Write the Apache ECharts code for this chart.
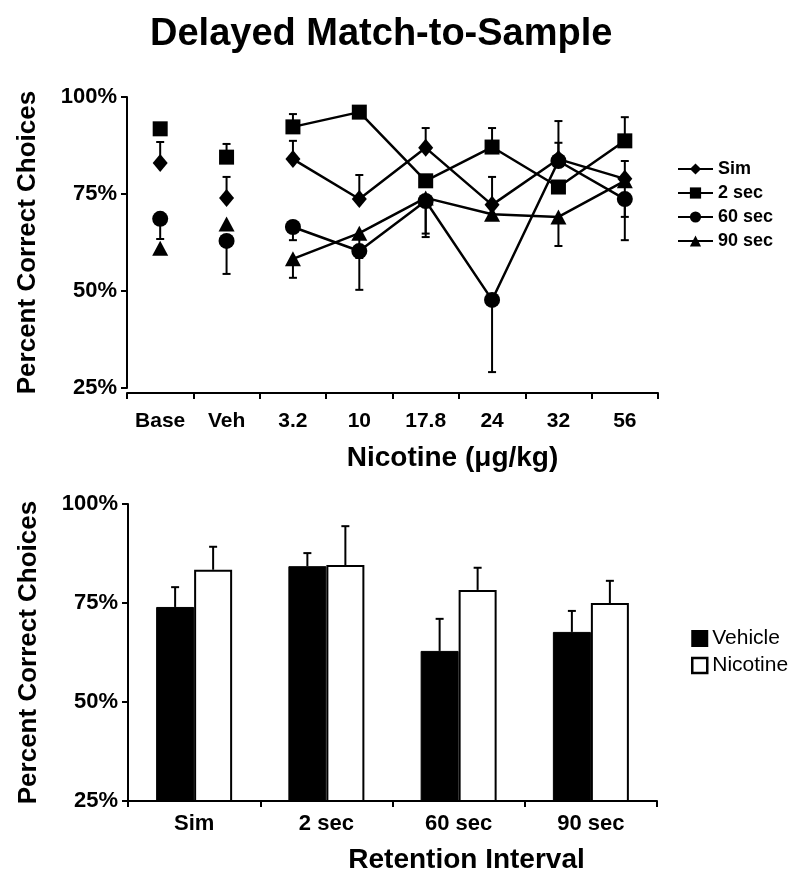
<!DOCTYPE html>
<html>
<head>
<meta charset="utf-8">
<script src="https://cdn.jsdelivr.net/npm/echarts@6/dist/echarts.min.js"></script>
<style>
  html, body { margin: 0; padding: 0; background: #fff; }
  #chart { width: 800px; height: 882px; }
</style>
</head>
<body>
<div id="chart"></div>
<script>
// top panel: dose-response
const doses = ["Base", "Veh", "3.2", "10", "17.8", "24", "32", "56"];
const simVals = [83.0, 74.0, 84.0, 73.7, 86.9, 72.2, 84.0, 78.9];
const sec2Vals = [91.8, 84.5, 92.3, 96.1, 78.4, 87.1, 76.8, 88.7];
const sec60Vals = [68.6, 62.9, 66.5, 60.3, 73.2, 47.7, 83.5, 73.7];
const sec90Vals = [61.0, 67.3, 58.3, 64.9, 74.0, 69.8, 69.1, 78.4];
// end of each error whisker (null = none shown)
const simErr = [88.4, 79.4, 88.7, 79.9, 92.0, 79.4, 88.2, 83.5];
const sec2Err = [null, 87.9, 95.6, null, null, 92.0, null, 94.8];
const sec60Err = [63.4, 54.4, 63.1, 50.3, 63.9, 29.1, 93.8, 63.1];
const sec90Err = [null, null, 53.4, 58.5, 64.8, null, 61.6, 69.1];

// bottom panel: vehicle vs nicotine
const intervals = ["Sim", "2 sec", "60 sec", "90 sec"];
const vehicleVals = [74.0, 84.3, 62.9, 67.7];
const vehicleErr = [79.0, 87.6, 71.0, 73.0];
const nicotineVals = [83.4, 84.6, 78.3, 75.0];
const nicotineErr = [89.2, 94.4, 83.9, 80.6];

const yTicks = [25, 50, 75, 100];

const FONT = "Liberation Sans, Arial, sans-serif";
const BAR_W = 38;

let chart = echarts.init(document.getElementById("chart"));

function errSeries(vals, errs, xi, dx) {
  let data = [];
  vals.forEach(function (v, i) {
    if (errs[i] != null) data.push([i, v, errs[i]]);
  });
  return {
    type: "custom",
    xAxisIndex: xi,
    yAxisIndex: xi,
    z: 1,
    silent: true,
    encode: { x: 0, y: [1, 2] },
    data: data,
    renderItem: function (params, api) {
      const x = api.value(0);
      const p0 = api.coord([x, api.value(1)]);
      const p1 = api.coord([x, api.value(2)]);
      const cx = p0[0] + dx;
      return {
        type: "group",
        children: [
          { type: "line", shape: { x1: cx, y1: p0[1], x2: cx, y2: p1[1] }, style: { stroke: "#000", lineWidth: 2 } },
          { type: "line", shape: { x1: cx - 4, y1: p1[1], x2: cx + 4, y2: p1[1] }, style: { stroke: "#000", lineWidth: 2 } }
        ]
      };
    }
  };
}

function doseSeries(name, vals, symbol, size) {
  return [
    {
      name: name,
      type: "line",
      xAxisIndex: 0,
      yAxisIndex: 0,
      z: 3,
      data: [null, null].concat(vals.slice(2)),
      symbol: symbol,
      symbolSize: size,
      showAllSymbol: true,
      lineStyle: { color: "#000", width: 2.5 },
      itemStyle: { color: "#000" }
    },
    {
      name: name + "_pre",
      type: "scatter",
      xAxisIndex: 0,
      yAxisIndex: 0,
      z: 3,
      data: vals.slice(0, 2),
      symbol: symbol,
      symbolSize: size,
      itemStyle: { color: "#000", opacity: 1 }
    }
  ];
}

const axisLineStyle = { show: true, lineStyle: { color: "#000", width: 2 } };
const tickLabel = { color: "#000", fontFamily: FONT, fontWeight: "bold", fontSize: 22 };
const nameStyle = { color: "#000", fontFamily: FONT, fontWeight: "bold", fontSize: 26 };

let series = []
  .concat(errSeries(simVals, simErr, 0, 0))
  .concat(errSeries(sec2Vals, sec2Err, 0, 0))
  .concat(errSeries(sec60Vals, sec60Err, 0, 0))
  .concat(errSeries(sec90Vals, sec90Err, 0, 0))
  .concat(doseSeries("Sim", simVals, "diamond", [15, 18]))
  .concat(doseSeries("2 sec", sec2Vals, "rect", [15, 15]))
  .concat(doseSeries("60 sec", sec60Vals, "circle", 16))
  .concat(doseSeries("90 sec", sec90Vals, "triangle", [16, 15]));

series.push({
  name: "Vehicle",
  type: "bar",
  xAxisIndex: 1,
  yAxisIndex: 1,
  barWidth: BAR_W,
  barGap: "0%",
  z: 2,
  data: vehicleVals,
  itemStyle: { color: "#000", borderColor: "#000", borderWidth: 1 }
});
series.push({
  name: "Nicotine",
  type: "bar",
  xAxisIndex: 1,
  yAxisIndex: 1,
  barWidth: BAR_W,
  barGap: "0%",
  z: 2,
  data: nicotineVals,
  itemStyle: { color: "#fff", borderColor: "#000", borderWidth: 2 }
});
series.push(errSeries(vehicleVals, vehicleErr, 1, -BAR_W / 2));
series.push(errSeries(nicotineVals, nicotineErr, 1, BAR_W / 2));

let option = {
  backgroundColor: "#fff",
  animation: false,
  title: {
    text: "Delayed Match-to-Sample",
    left: 145,
    top: 11,
    textStyle: { color: "#000", fontFamily: FONT, fontWeight: "bold", fontSize: 38 }
  },
  legend: [
    {
      data: ["Sim", "2 sec", "60 sec", "90 sec"],
      orient: "vertical",
      left: 677,
      top: 160,
      padding: 0,
      itemWidth: 35,
      itemHeight: 14,
      itemGap: 6,
      textStyle: { color: "#000", fontFamily: FONT, fontWeight: "bold", fontSize: 18 }
    },
    {
      data: [
        { name: "Vehicle", icon: "rect", itemStyle: { color: "#000" } },
        { name: "Nicotine", icon: "rect", itemStyle: { color: "#fff", borderColor: "#000", borderWidth: 2.5 } }
      ],
      orient: "vertical",
      left: 691,
      top: 628,
      padding: 0,
      itemWidth: 15,
      itemHeight: 15,
      itemGap: 6,
      textStyle: { color: "#000", fontFamily: FONT, fontSize: 21 }
    }
  ],
  grid: [
    { left: 127, right: 142, top: 97, bottom: 494 },
    { left: 128, right: 143, top: 504, bottom: 81 }
  ],
  xAxis: [
    {
      gridIndex: 0,
      type: "category",
      data: doses,
      offset: 5,
      axisLine: axisLineStyle,
      axisTick: { show: true, interval: 0, length: 6, lineStyle: { color: "#000", width: 2 } },
      axisLabel: Object.assign({ margin: 18, interval: 0 }, tickLabel, { fontSize: 21 }),
      name: "Nicotine (\u03bcg/kg)",
      nameLocation: "middle",
      nameGap: 51,
      nameTextStyle: Object.assign({ padding: [0, 0, 0, 120] }, nameStyle, { fontSize: 28 })
    },
    {
      gridIndex: 1,
      type: "category",
      data: intervals,
      axisLine: axisLineStyle,
      axisTick: { show: true, interval: 0, length: 6, lineStyle: { color: "#000", width: 2 } },
      axisLabel: Object.assign({ margin: 12, interval: 0 }, tickLabel),
      name: "Retention Interval",
      nameLocation: "middle",
      nameGap: 45,
      nameTextStyle: Object.assign({ padding: [0, 0, 0, 148] }, nameStyle, { fontSize: 28 })
    }
  ],
  yAxis: [0, 1].map(function (gi) {
    return {
      gridIndex: gi,
      type: "value",
      min: yTicks[0],
      max: yTicks[yTicks.length - 1],
      interval: 25,
      splitLine: { show: false },
      axisLine: axisLineStyle,
      axisTick: { show: true, length: 6, lineStyle: { color: "#000", width: 2 } },
      axisLabel: Object.assign({ margin: 10, formatter: "{value}%" }, tickLabel),
      name: "Percent Correct Choices",
      nameLocation: "middle",
      nameGap: 86,
      nameTextStyle: nameStyle
    };
  }),
  series: series
};

chart.setOption(option);
window.onresize = function () {
  chart.resize();
};
</script>
</body>
</html>
